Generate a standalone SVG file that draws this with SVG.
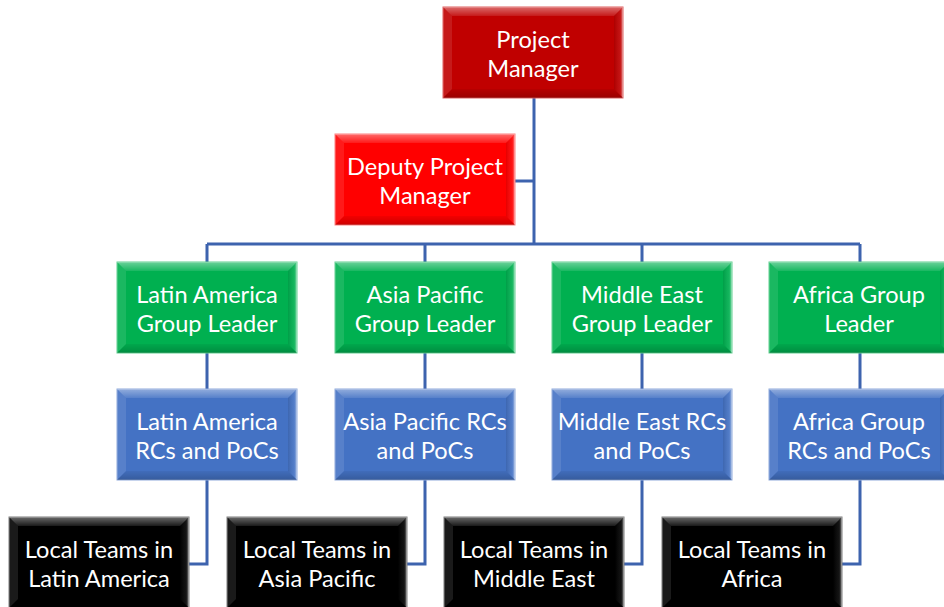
<svg xmlns="http://www.w3.org/2000/svg" xmlns:xlink="http://www.w3.org/1999/xlink" width="944" height="607" viewBox="0 0 944 607">
  <style>
    .box { stroke-width: 1; }
    .pm { fill: #C00000; stroke: #E06060; }
    .dep { fill: #FF0000; stroke: #FF8080; }
    .grn { fill: #00B050; stroke: #60D090; }
    .blu { fill: #4472C4; stroke: #8FAADC; }
    .blk { fill: #000000; stroke: #7F7F7F; }
    .lbl { font-family: Lato, "Liberation Sans", sans-serif; font-size: 23.6px; fill: #FFFFFF; text-anchor: middle; }
    .wire { fill: none; stroke: #3D63AE; stroke-width: 3; }
  </style>
  <defs>
    <linearGradient id="topBand" x1="0" y1="0" x2="0" y2="1">
      <stop offset="0" stop-color="#FFFFFF" stop-opacity="0.42"/>
      <stop offset="1" stop-color="#FFFFFF" stop-opacity="0.1"/>
    </linearGradient>
    <linearGradient id="botBand" x1="0" y1="0" x2="0" y2="1">
      <stop offset="0" stop-color="#000000" stop-opacity="0.05"/>
      <stop offset="1" stop-color="#000000" stop-opacity="0.2"/>
    </linearGradient>
    <linearGradient id="rightBand" x1="0" y1="0" x2="1" y2="0">
      <stop offset="0" stop-color="#000000" stop-opacity="0.1"/>
      <stop offset="0.7" stop-color="#FFFFFF" stop-opacity="0.08"/>
      <stop offset="1" stop-color="#FFFFFF" stop-opacity="0.5"/>
    </linearGradient>
    <!-- bevel overlay for a 180 x 91 box -->
    <g id="bevel">
      <polygon points="0,0 180,0 171,9 9,9" fill="url(#topBand)"/>
      <polygon points="0,0 9,9 9,82 0,91" fill="#FFFFFF" fill-opacity="0.1"/>
      <polygon points="180,0 180,91 171,82 171,9" fill="url(#rightBand)"/>
      <polygon points="0,91 9,82 171,82 180,91" fill="url(#botBand)"/>
    </g>
  </defs>

  <g id="connectors">
    <path class="wire" d="M534,98 V244"/>
    <path class="wire" d="M515,181 H534"/>
    <path class="wire" d="M207,244 H860"/>
    <path class="wire" d="M207,244 V262 M425,244 V262 M642,244 V262 M860,244 V262"/>
    <path class="wire" d="M207,353 V389 M425,353 V389 M642,353 V389 M860,353 V389"/>
    <path class="wire" d="M207,480 V564 H189"/>
    <path class="wire" d="M425,480 V564 H407"/>
    <path class="wire" d="M642,480 V564 H624"/>
    <path class="wire" d="M860,480 V564 H842"/>
  </g>

  <g id="project-manager" transform="translate(443,7)">
    <rect class="box pm" width="180" height="91"/>
    <use href="#bevel"/>
    <text class="lbl" x="90" y="40.5">Project</text>
    <text class="lbl" x="90" y="69.5">Manager</text>
  </g>

  <g id="deputy-project-manager" transform="translate(335,134)">
    <rect class="box dep" width="180" height="91"/>
    <use href="#bevel"/>
    <text class="lbl" x="90" y="40.5">Deputy Project</text>
    <text class="lbl" x="90" y="69.5">Manager</text>
  </g>

  <g id="latin-america-leader" transform="translate(117,262)">
    <rect class="box grn" width="180" height="91"/>
    <use href="#bevel"/>
    <text class="lbl" x="90" y="40.5">Latin America</text>
    <text class="lbl" x="90" y="69.5">Group Leader</text>
  </g>

  <g id="asia-pacific-leader" transform="translate(335,262)">
    <rect class="box grn" width="180" height="91"/>
    <use href="#bevel"/>
    <text class="lbl" x="90" y="40.5">Asia Pacific</text>
    <text class="lbl" x="90" y="69.5">Group Leader</text>
  </g>

  <g id="middle-east-leader" transform="translate(552,262)">
    <rect class="box grn" width="180" height="91"/>
    <use href="#bevel"/>
    <text class="lbl" x="90" y="40.5">Middle East</text>
    <text class="lbl" x="90" y="69.5">Group Leader</text>
  </g>

  <g id="africa-leader" transform="translate(769,262)">
    <rect class="box grn" width="180" height="91"/>
    <use href="#bevel"/>
    <text class="lbl" x="90" y="40.5">Africa Group</text>
    <text class="lbl" x="90" y="69.5">Leader</text>
  </g>

  <g id="latin-america-rcs" transform="translate(117,389)">
    <rect class="box blu" width="180" height="91"/>
    <use href="#bevel"/>
    <text class="lbl" x="90" y="40.5">Latin America</text>
    <text class="lbl" x="90" y="69.5">RCs and PoCs</text>
  </g>

  <g id="asia-pacific-rcs" transform="translate(335,389)">
    <rect class="box blu" width="180" height="91"/>
    <use href="#bevel"/>
    <text class="lbl" x="90" y="40.5">Asia Pacific RCs</text>
    <text class="lbl" x="90" y="69.5">and PoCs</text>
  </g>

  <g id="middle-east-rcs" transform="translate(552,389)">
    <rect class="box blu" width="180" height="91"/>
    <use href="#bevel"/>
    <text class="lbl" x="90" y="40.5">Middle East RCs</text>
    <text class="lbl" x="90" y="69.5">and PoCs</text>
  </g>

  <g id="africa-rcs" transform="translate(769,389)">
    <rect class="box blu" width="180" height="91"/>
    <use href="#bevel"/>
    <text class="lbl" x="90" y="40.5">Africa Group</text>
    <text class="lbl" x="90" y="69.5">RCs and PoCs</text>
  </g>

  <g id="local-latin-america" transform="translate(9,517)">
    <rect class="box blk" width="180" height="91"/>
    <use href="#bevel"/>
    <text class="lbl" x="90" y="40.5">Local Teams in</text>
    <text class="lbl" x="90" y="69.5">Latin America</text>
  </g>

  <g id="local-asia-pacific" transform="translate(227,517)">
    <rect class="box blk" width="180" height="91"/>
    <use href="#bevel"/>
    <text class="lbl" x="90" y="40.5">Local Teams in</text>
    <text class="lbl" x="90" y="69.5">Asia Pacific</text>
  </g>

  <g id="local-middle-east" transform="translate(444,517)">
    <rect class="box blk" width="180" height="91"/>
    <use href="#bevel"/>
    <text class="lbl" x="90" y="40.5">Local Teams in</text>
    <text class="lbl" x="90" y="69.5">Middle East</text>
  </g>

  <g id="local-africa" transform="translate(662,517)">
    <rect class="box blk" width="180" height="91"/>
    <use href="#bevel"/>
    <text class="lbl" x="90" y="40.5">Local Teams in</text>
    <text class="lbl" x="90" y="69.5">Africa</text>
  </g>
</svg>
